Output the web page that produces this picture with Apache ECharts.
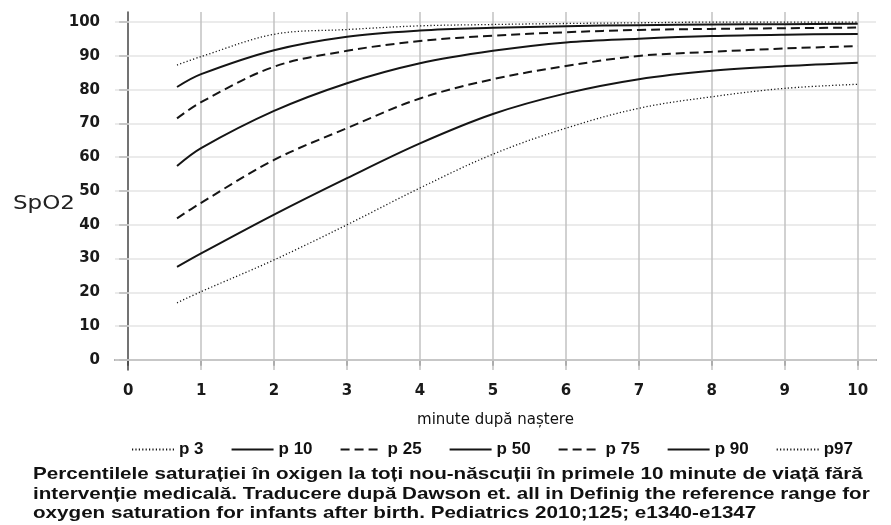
<!DOCTYPE html>
<html lang="ro" style="height: 100%">
<head>
  <meta charset="utf-8">
</head>
<body style="height: 100%; margin: 0; background: #fff">
  <div id="container" style="width: 891px; height: 525px"></div>
  <script type="text/javascript" src="https://cdn.jsdelivr.net/npm/echarts@6.0.0/dist/echarts.min.js"></script>
  <script type="text/javascript">
    // minutes after birth
    var minutes = [0.67, 1, 2, 3, 4, 5, 6, 7, 8, 9, 10];
    var p3  = [16.9, 20.2, 29.6, 40.0, 50.9, 60.9, 68.6, 74.5, 77.9, 80.4, 81.6];
    var p10 = [27.5, 31.5, 43.0, 53.8, 64.1, 72.8, 78.9, 83.1, 85.6, 87.0, 88.0];
    var p25 = [41.9, 46.5, 59.2, 68.6, 77.4, 83.1, 87.0, 90.0, 91.2, 92.2, 92.9];
    var p50 = [57.4, 62.7, 73.7, 81.9, 87.8, 91.5, 94.0, 95.1, 95.9, 96.3, 96.5];
    var p75 = [71.5, 76.3, 86.8, 91.5, 94.4, 96.0, 97.0, 97.7, 98.0, 98.2, 98.4];
    var p90 = [80.8, 84.6, 91.7, 95.7, 97.5, 98.3, 98.8, 99.1, 99.3, 99.4, 99.5];
    var p97 = [87.3, 89.8, 96.4, 97.8, 98.9, 99.3, 99.6, 99.8, 100, 100, 100];
    var names = ['p 3', 'p 10', 'p 25', 'p 50', 'p 75', 'p 90', 'p97'];
    var xTicks = [0, 1, 2, 3, 4, 5, 6, 7, 8, 9, 10];
    var yTicks = [0, 10, 20, 30, 40, 50, 60, 70, 80, 90, 100];
    var caption = 'Percentilele saturației în oxigen la toți nou-născuții în primele 10 minute de viață fără\n' +
      'intervenție medicală. Traducere după Dawson et. all in Definig the reference range for\n' +
      'oxygen saturation for infants after birth. Pediatrics 2010;125; e1340-e1347';

    var dom = document.getElementById('container');
    var myChart = echarts.init(dom, null, { renderer: 'canvas' });

    function pairs(ys) {
      return minutes.map(function (m, i) { return [m, ys[i]]; });
    }
    var dotted = [1.2, 2.2];
    var dashed = [9, 5];
    var styles = [dotted, 'solid', dashed, 'solid', dashed, 'solid', dotted];
    var widths = [1.3, 2, 2, 2, 2, 2, 1.3];
    var allData = [p3, p10, p25, p50, p75, p90, p97];

    var series = allData.map(function (ys, i) {
      return {
        name: names[i],
        type: 'line',
        data: pairs(ys),
        smooth: 0.35,
        showSymbol: false,
        symbol: 'none',
        z: 5,
        lineStyle: { color: '#151515', width: widths[i], type: styles[i] },
        itemStyle: { color: '#151515' }
      };
    });

    // grid lines
    series.push({
      type: 'line',
      data: [],
      silent: true,
      z: 1,
      markLine: {
        silent: true,
        symbol: 'none',
        label: { show: false },
        animation: false,
        data: yTicks.map(function (v) {
          return { yAxis: v, lineStyle: { color: '#e4e4e4', width: 1.5, type: 'solid' } };
        }).concat(xTicks.slice(1).map(function (v) {
          return { xAxis: v, lineStyle: { color: '#c2c2c2', width: 1.5, type: 'solid' } };
        }))
      }
    });

    var option = {
      animation: false,
      backgroundColor: '#fff',
      grid: { left: 115, right: 15, top: 12, bottom: 155 },
      xAxis: {
        type: 'value',
        min: -0.18,
        max: 10.25,
        name: 'minute după naștere',
        nameLocation: 'middle',
        nameGap: 43,
        nameTextStyle: { fontFamily: 'DejaVu Sans', fontSize: 15, color: '#111' },
        axisLine: { lineStyle: { color: '#444', width: 1.5 } },
        axisTick: { customValues: xTicks, length: 6, lineStyle: { color: '#444', width: 1.5 } },
        axisLabel: {
          customValues: xTicks,
          margin: 14,
          fontFamily: 'DejaVu Sans',
          fontWeight: 'bold',
          fontSize: 15,
          color: '#1a1a1a'
        },
        splitLine: { show: false }
      },
      yAxis: {
        type: 'value',
        min: -3,
        max: 103,
        axisLine: { show: true, lineStyle: { color: '#444', width: 1.5 } },
        axisTick: { show: true, customValues: yTicks, length: 9, lineStyle: { color: '#444', width: 1.5 } },
        axisLabel: {
          customValues: yTicks,
          margin: 15,
          fontFamily: 'DejaVu Sans',
          fontWeight: 'bold',
          fontSize: 15,
          color: '#1a1a1a'
        },
        splitLine: { show: false }
      },
      legend: {
        data: names,
        left: 126,
        top: 436,
        itemWidth: 42,
        itemHeight: 10,
        itemGap: 27,
        itemStyle: { opacity: 0 },
        textStyle: {
          fontFamily: 'Liberation Sans',
          fontWeight: 'bold',
          fontSize: 17,
          color: '#111'
        }
      },
      graphic: [
        {
          type: 'text',
          left: 13,
          top: 194,
          scaleX: 1.15,
          style: { text: 'SpO2', font: '20px "DejaVu Sans"', fill: '#222' }
        },
        {
          type: 'text',
          left: 33,
          top: 465,
          scaleX: 1.25,
          style: {
            text: caption,
            font: 'bold 16.5px "Liberation Sans"',
            lineHeight: 19.5,
            fill: '#111'
          }
        }
      ],
      series: series
    };

    myChart.setOption(option);
    window.addEventListener('resize', myChart.resize);
  </script>
</body>
</html>
